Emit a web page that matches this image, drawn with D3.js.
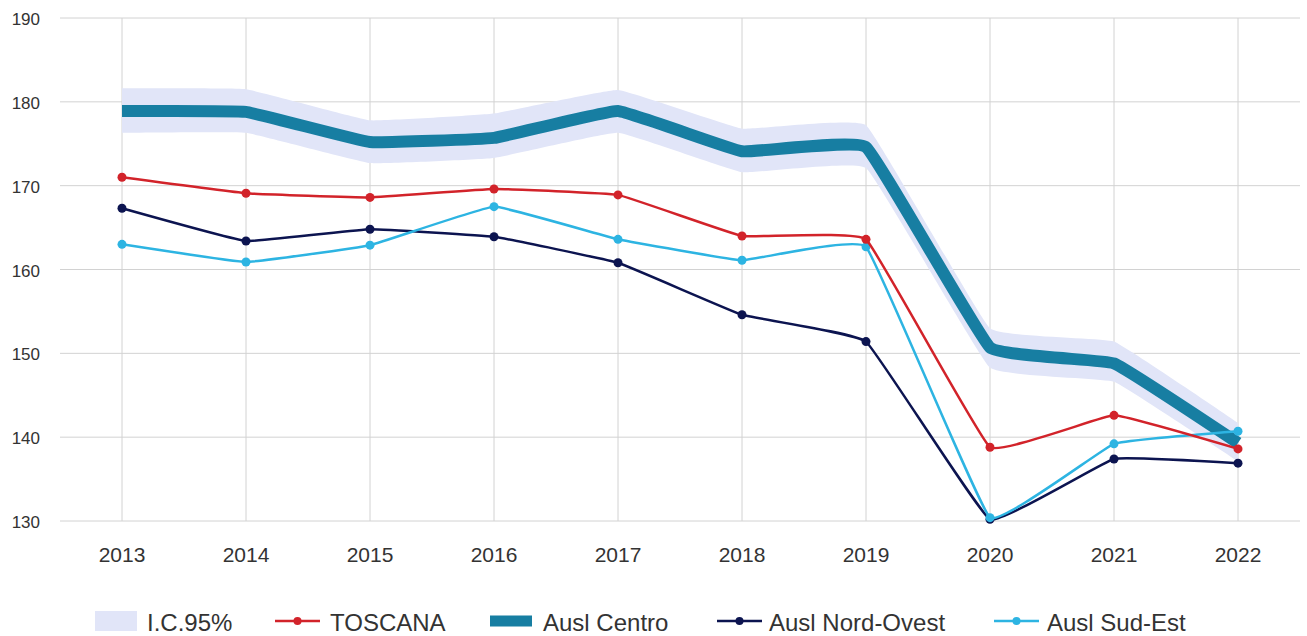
<!DOCTYPE html>
<html>
<head>
<meta charset="utf-8">
<script src="https://cdn.jsdelivr.net/npm/d3@7"></script>
<style>
  body { margin: 0; background: #fff; }
  text { font-family: "Liberation Sans", Arial, sans-serif; fill: #333; }
</style>
</head>
<body>
<div id="chart"></div>
<script>
// data
const years = [2013, 2014, 2015, 2016, 2017, 2018, 2019, 2020, 2021, 2022];
const toscana = [171.0, 169.1, 168.6, 169.6, 168.9, 164.0, 163.6, 138.8, 142.6, 138.6];
const auslCentro = [178.9, 178.8, 175.2, 175.7, 178.9, 174.1, 174.6, 150.7, 148.8, 139.3];
const auslNordOvest = [167.3, 163.4, 164.8, 163.9, 160.8, 154.6, 151.4, 130.2, 137.4, 136.9];
const auslSudEst = [163.0, 160.9, 162.9, 167.5, 163.6, 161.1, 162.7, 130.4, 139.2, 140.7];
const icLow = [176.3, 176.3, 172.7, 173.3, 176.3, 171.6, 172.1, 148.3, 146.6, 137.1];
const icHigh = [181.6, 181.5, 177.8, 178.6, 181.4, 176.8, 177.2, 153.0, 151.4, 141.7];
const yTicks = [130, 140, 150, 160, 170, 180, 190];

const width = 1307, height = 636;

const svg = d3.select("#chart").append("svg")
    .attr("width", width)
    .attr("height", height);

const x = d3.scalePoint()
    .domain(years)
    .range([60, 1300])
    .padding(0.5);

const y = d3.scaleLinear()
    .domain([130, 190])
    .range([521, 18]);

const curve = d3.curveCardinal.tension(0.75);

// gridlines
svg.append("g")
    .selectAll("line")
    .data(yTicks)
    .join("line")
    .attr("x1", 60).attr("x2", 1300)
    .attr("y1", d => y(d)).attr("y2", d => y(d))
    .attr("stroke", "#d2d2d2").attr("stroke-width", 1);

svg.append("g")
    .selectAll("line")
    .data(years)
    .join("line")
    .attr("x1", d => x(d)).attr("x2", d => x(d))
    .attr("y1", y(190)).attr("y2", y(130))
    .attr("stroke", "#d2d2d2").attr("stroke-width", 1);

// axis labels
svg.append("g")
    .selectAll("text")
    .data(yTicks)
    .join("text")
    .attr("x", 40)
    .attr("y", d => y(d) + 7)
    .attr("text-anchor", "end")
    .style("font-size", "17px")
    .text(d => d);

svg.append("g")
    .selectAll("text")
    .data(years)
    .join("text")
    .attr("x", d => x(d))
    .attr("y", 562)
    .attr("text-anchor", "middle")
    .style("font-size", "21px")
    .text(d => d);

// confidence band
const area = d3.area()
    .x((d, i) => x(years[i]))
    .y0((d, i) => y(icLow[i]))
    .y1((d, i) => y(icHigh[i]))
    .curve(curve);

svg.append("path")
    .datum(years)
    .attr("d", area)
    .attr("fill", "#e1e5f8");

const line = d3.line()
    .x((d, i) => x(years[i]))
    .y(d => y(d))
    .curve(curve);

// thick Centro line
svg.append("path")
    .datum(auslCentro)
    .attr("d", line)
    .attr("fill", "none")
    .attr("stroke", "#177ea2")
    .attr("stroke-width", 12)
    .attr("stroke-linejoin", "round");

const series = [
    {name: "Ausl Nord-Ovest", values: auslNordOvest, color: "#0c1450"},
    {name: "Ausl Sud-Est", values: auslSudEst, color: "#2db4e2"},
    {name: "TOSCANA", values: toscana, color: "#d2232a"}
];

series.forEach(s => {
    svg.append("path")
        .datum(s.values)
        .attr("d", line)
        .attr("fill", "none")
        .attr("stroke", s.color)
        .attr("stroke-width", 2.5);

    svg.append("g")
        .selectAll("circle")
        .data(s.values)
        .join("circle")
        .attr("cx", (d, i) => x(years[i]))
        .attr("cy", d => y(d))
        .attr("r", 4.5)
        .attr("fill", s.color);
});

// legend
const legend = svg.append("g");
const ly = 621, lb = 631;

legend.append("rect")
    .attr("x", 95).attr("y", 611).attr("width", 42).attr("height", 20)
    .attr("fill", "#e1e5f8");
legend.append("text").attr("x", 147).attr("y", lb)
    .style("font-size", "24px").text("I.C.95%");

const lineItems = [
    {name: "TOSCANA", color: "#d2232a", x0: 275, tx: 330},
    {name: "Ausl Nord-Ovest", color: "#0c1450", x0: 717, tx: 769},
    {name: "Ausl Sud-Est", color: "#2db4e2", x0: 994, tx: 1047}
];

lineItems.forEach(it => {
    legend.append("line")
        .attr("x1", it.x0).attr("x2", it.x0 + 45)
        .attr("y1", ly).attr("y2", ly)
        .attr("stroke", it.color).attr("stroke-width", 2.5);
    legend.append("circle")
        .attr("cx", it.x0 + 22.5).attr("cy", ly).attr("r", 4)
        .attr("fill", it.color);
    legend.append("text").attr("x", it.tx).attr("y", lb)
        .style("font-size", "24px").text(it.name);
});

legend.append("line")
    .attr("x1", 490).attr("x2", 532)
    .attr("y1", ly).attr("y2", ly)
    .attr("stroke", "#177ea2").attr("stroke-width", 11);
legend.append("text").attr("x", 543).attr("y", lb)
    .style("font-size", "24px").text("Ausl Centro");
</script>
</body>
</html>
